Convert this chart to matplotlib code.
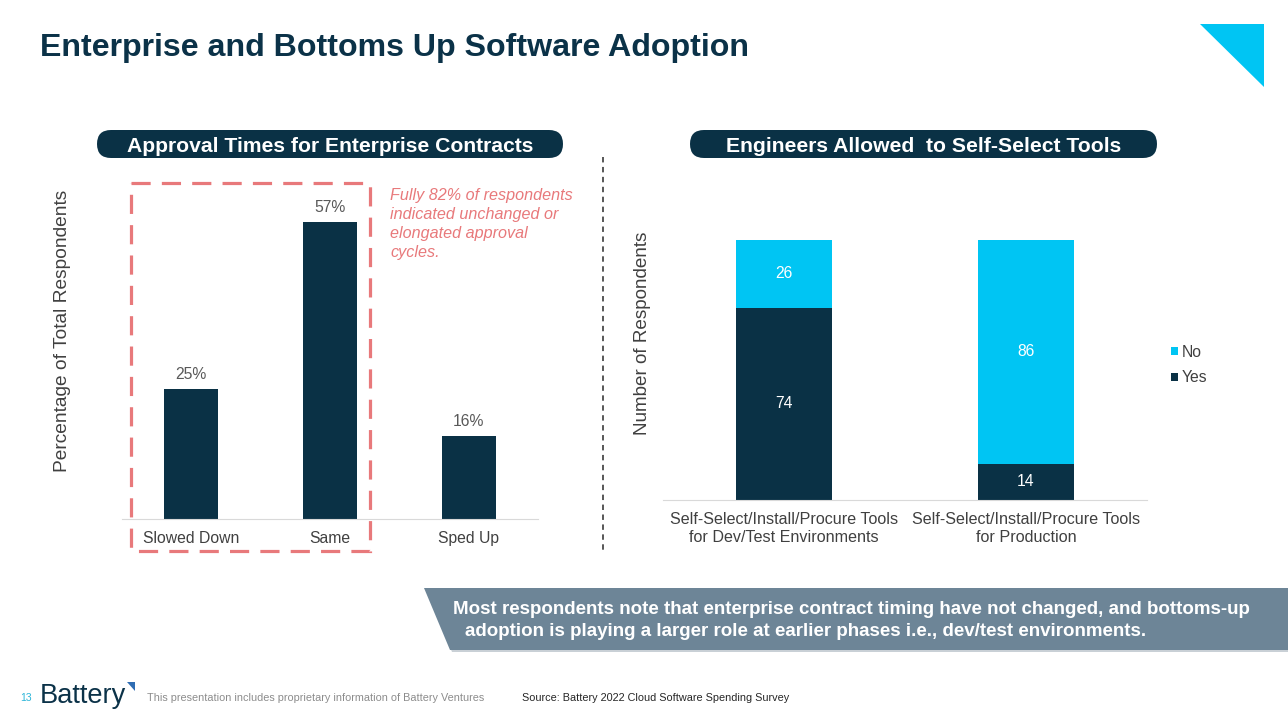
import matplotlib
matplotlib.use("Agg")
import matplotlib.pyplot as plt
from matplotlib.patches import FancyBboxPatch, Polygon, Rectangle, Patch
from matplotlib.lines import Line2D

# ---------------- data ----------------
left_categories = ["Slowed Down", "Same", "Sped Up"]
left_values = [25, 57, 16]  # percent of total respondents

right_categories = ["Self-Select/Install/Procure Tools\nfor Dev/Test Environments",
                    "Self-Select/Install/Procure Tools\nfor Production"]
yes_values = [74, 14]
no_values = [26, 86]

title = "Enterprise and Bottoms Up Software Adoption"
left_header = "Approval Times for Enterprise Contracts"
right_header = "Engineers Allowed  to Self-Select Tools"
note_text = "Fully 82% of respondents\nindicated unchanged or\nelongated approval\ncycles."
banner_lines = ["Most respondents note that enterprise contract timing have not changed, and bottoms-up",
                "adoption is playing a larger role at earlier phases i.e., dev/test environments."]

# ---------------- style ----------------
NAVY = "#0a3145"
CYAN = "#00c5f3"
SALMON = "#e8797b"
GRAY_TXT = "#595959"
DARK_TXT = "#404040"
BANNER = "#6d8597"
FONT = "Liberation Sans"
plt.rcParams["font.family"] = [FONT, "DejaVu Sans"]

W, H = 1288, 724
fig = plt.figure(figsize=(W / 100, H / 100), dpi=100)
fig.patch.set_facecolor("white")

def ax_rect(left, top, right, bottom):
    return [left / W, 1 - bottom / H, (right - left) / W, (bottom - top) / H]

# background / overlay axes in pixel coords
bg = fig.add_axes([0, 0, 1, 1], zorder=0)
bg.set_xlim(0, W)
bg.set_ylim(H, 0)
bg.axis("off")

# Title
bg.text(40, 48, title, fontsize=23.1, fontweight="bold", color="#0b3248",
        ha="left", va="center")

# Top-right triangle
bg.add_patch(Polygon([[1200, 24], [1264, 24], [1264, 87]], closed=True,
                     facecolor=CYAN, edgecolor="none"))

# Header pills
for (x0, x1, txt) in [(97, 563, left_header), (690, 1157, right_header)]:
    bg.add_patch(FancyBboxPatch((x0, 130), x1 - x0, 28,
                                boxstyle="round,pad=0,rounding_size=14",
                                facecolor=NAVY, edgecolor="none"))
    bg.text((x0 + x1) / 2, 146, txt, fontsize=15.2, fontweight="bold",
            color="white", ha="center", va="center")

# Vertical dashed separator
bg.add_line(Line2D([603, 603], [157, 550], color="#4a4a4a", lw=1.3,
                   linestyle=(0, (3, 2.5))))

# Dashed highlight box
bg.add_patch(Rectangle((131, 183), 239, 368, fill=False, edgecolor=SALMON,
                       lw=2.3, linestyle=(0, (6, 3.5))))

# Note text
bg.text(390, 188, note_text, fontsize=11.6, style="italic", color=SALMON,
        ha="left", va="top", linespacing=1.33)

# Y labels
bg.text(63, 331, "Percentage of Total Respondents", rotation=90, fontsize=13.8,
        color=DARK_TXT, ha="center", va="center")
bg.text(643, 333, "Number of Respondents", rotation=90, fontsize=13.6,
        color=DARK_TXT, ha="center", va="center")

# Banner
bg.add_patch(Polygon([[426, 590], [1288, 590], [1288, 652], [452, 652]], closed=True,
                     facecolor="#c9d0d6", edgecolor="none"))
bg.add_patch(Polygon([[424, 588], [1288, 588], [1288, 650], [450, 650]], closed=True,
                     facecolor=BANNER, edgecolor="none"))
bg.text(453, 609, banner_lines[0], fontsize=13.5, fontweight="bold", color="white",
        ha="left", va="center")
bg.text(465, 631, banner_lines[1], fontsize=13.5, fontweight="bold", color="white",
        ha="left", va="center")

# Footer
bg.text(20, 698, "13", fontsize=7.5, color="#2bb5d8", ha="left", va="center")
bg.text(40, 696, "Battery", fontsize=19.6, color="#0b3248", ha="left", va="center")
bg.add_patch(Polygon([[127, 682], [135, 682], [135, 691]], closed=True,
                     facecolor="#2f6db3", edgecolor="none"))
bg.text(147, 698, "This presentation includes proprietary information of Battery Ventures",
        fontsize=7.8, color="#8c8c8c", ha="left", va="center")
bg.text(522, 698, "Source: Battery 2022 Cloud Software Spending Survey",
        fontsize=7.8, color="#262626", ha="left", va="center")

# ---------------- left chart ----------------
axL = fig.add_axes(ax_rect(122, 180, 538, 519), zorder=1)
axL.patch.set_alpha(0)
xL = list(range(len(left_categories)))
barsL = axL.bar(xL, left_values, width=0.39, color=NAVY)
axL.set_xlim(-0.5, len(left_categories) - 0.5)
axL.set_ylim(0, 339 / 5.21)
for b, v in zip(barsL, left_values):
    axL.annotate(f"{v}%", (b.get_x() + b.get_width() / 2, v), xytext=(0, 10.5),
                 textcoords="offset points", ha="center", va="center",
                 fontsize=11.3, color=GRAY_TXT)
axL.set_xticks(xL)
axL.set_xticklabels(left_categories, fontsize=11.3, color=DARK_TXT)
axL.tick_params(axis="x", length=0, pad=8.5)
axL.set_yticks([])
for s in ["top", "right", "left"]:
    axL.spines[s].set_visible(False)
axL.spines["bottom"].set_color("#d9d9d9")

# ---------------- right chart ----------------
axR = fig.add_axes(ax_rect(663, 180, 1147, 500), zorder=1)
axR.patch.set_alpha(0)
xR = list(range(len(right_categories)))
barsY = axR.bar(xR, yes_values, width=0.40, color=NAVY, label="Yes")
barsN = axR.bar(xR, no_values, width=0.40, bottom=yes_values, color=CYAN, label="No")
axR.set_xlim(-0.5, len(right_categories) - 0.5)
axR.set_ylim(0, 320 / 2.6)
for i in xR:
    axR.text(i, yes_values[i] / 2, str(yes_values[i]), ha="center", va="center",
             fontsize=11.3, color="white")
    axR.text(i, yes_values[i] + no_values[i] / 2, str(no_values[i]), ha="center",
             va="center", fontsize=11.3, color="white")
axR.set_xticks(xR)
axR.set_xticklabels(right_categories, fontsize=11.6, color=DARK_TXT, linespacing=1.18)
axR.tick_params(axis="x", length=0, pad=9)
axR.set_yticks([])
for s in ["top", "right", "left"]:
    axR.spines[s].set_visible(False)
axR.spines["bottom"].set_color("#d9d9d9")

handles = [Patch(facecolor=CYAN, label="No"), Patch(facecolor=NAVY, label="Yes")]
axR.legend(handles=handles, loc="center left", bbox_to_anchor=(1157 / W, 1 - 365 / H),
           bbox_transform=fig.transFigure, frameon=False, fontsize=11.3,
           handlelength=0.45, handleheight=0.45, handletextpad=0.25,
           labelspacing=0.7, labelcolor=DARK_TXT)

fig.savefig("out.png", dpi=100, facecolor="white")
